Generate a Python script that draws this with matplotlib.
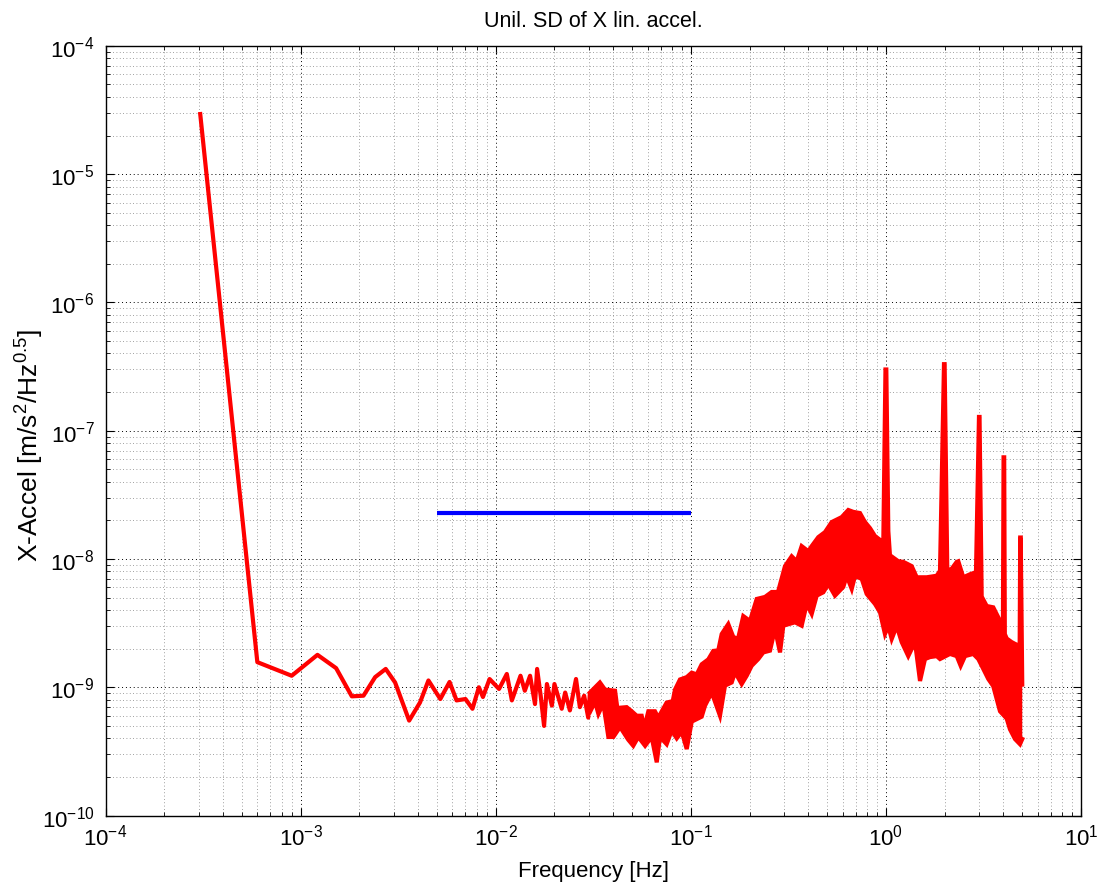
import numpy as np
import matplotlib
matplotlib.use('Agg')
import matplotlib.pyplot as plt
from matplotlib.ticker import LogLocator

plt.rcParams['font.family'] = ['Liberation Sans', 'DejaVu Sans']
plt.rcParams['mathtext.fontset'] = 'custom'
plt.rcParams['mathtext.rm'] = 'Liberation Sans'
plt.rcParams['mathtext.it'] = 'Liberation Sans'
plt.rcParams['mathtext.default'] = 'regular'

# low frequency part of the spectrum, single trace [Hz], [m/s^2/Hz^0.5]
freq_low = [3.05e-4, 6.0e-4, 9.0e-4, 1.22e-3, 1.52e-3, 1.83e-3, 2.10e-3, 2.41e-3,
            2.73e-3, 3.05e-3, 3.60e-3, 4.09e-3, 4.52e-3, 5.2e-3, 5.8e-3, 6.3e-3,
            7.0e-3, 7.6e-3, 8.2e-3, 8.6e-3, 9.3e-3, 1.04e-2, 1.14e-2, 1.21e-2,
            1.34e-2, 1.41e-2, 1.50e-2, 1.59e-2, 1.63e-2, 1.70e-2, 1.77e-2, 1.83e-2,
            1.94e-2, 2.0e-2, 2.18e-2, 2.27e-2, 2.40e-2, 2.58e-2, 2.70e-2, 2.84e-2,
            2.98e-2]
asd_low = [3.05e-5, 1.57e-9, 1.23e-9, 1.79e-9, 1.41e-9, 8.5e-10, 8.6e-10, 1.20e-9,
           1.39e-9, 1.09e-9, 5.5e-10, 7.6e-10, 1.13e-9, 8.1e-10, 1.10e-9, 7.9e-10,
           8.1e-10, 6.8e-10, 1.0e-9, 8.4e-10, 1.16e-9, 9.7e-10, 1.27e-9, 7.9e-10,
           1.23e-9, 9.4e-10, 1.23e-9, 7.4e-10, 1.39e-9, 8.6e-10, 5.0e-10, 1.06e-9,
           7.2e-10, 1.06e-9, 6.8e-10, 9.1e-10, 6.6e-10, 1.16e-9, 7.0e-10, 8.6e-10,
           5.8e-10]

# noisy part: upper edge of the trace (incl. the lines at 1..5 Hz)
freq_up = [0.0304, 0.0342, 0.0363, 0.0409, 0.0420, 0.0469, 0.0498, 0.0528, 0.0560,
           0.0576, 0.0606, 0.0655, 0.0681, 0.0752, 0.0808, 0.0830, 0.0880, 0.0953,
           0.1011, 0.1072, 0.1137, 0.1229, 0.1304, 0.1383, 0.1440, 0.1556, 0.1651,
           0.1745, 0.1858, 0.2011, 0.2177, 0.2400, 0.2598, 0.2798, 0.3040, 0.3289,
           0.3490, 0.3700, 0.4002, 0.4166, 0.4503, 0.4873, 0.5275, 0.5935, 0.6416,
           0.6806, 0.7365, 0.7816, 0.829, 0.879, 0.933, 0.970, 0.995, 1.005,
           1.029, 1.049, 1.158, 1.228, 1.356, 1.439, 1.619, 1.821, 1.894,
           1.985, 2.0, 2.064, 2.175, 2.307, 2.350, 2.493, 2.698, 2.896,
           3.0, 3.02, 3.097, 3.287, 3.551, 3.845, 3.98, 4.01, 4.04,
           4.07, 4.161, 4.414, 4.589, 4.85, 4.88, 4.91, 5.0]
asd_up = [9.1e-10, 1.09e-9, 9.6e-10, 9.4e-10, 6.9e-10, 7.0e-10, 6.5e-10, 6.0e-10, 6.0e-10,
          4.8e-10, 6.5e-10, 6.5e-10, 5.8e-10, 7.6e-10, 7.8e-10, 9.6e-10, 1.15e-9, 1.20e-9,
          1.30e-9, 1.26e-9, 1.51e-9, 1.65e-9, 1.92e-9, 1.94e-9, 2.60e-9, 3.11e-9, 2.47e-9,
          2.38e-9, 3.59e-9, 3.29e-9, 4.88e-9, 5.06e-9, 5.53e-9, 5.53e-9, 8.8e-9, 1.05e-8,
          9.6e-9, 1.26e-8, 1.15e-8, 1.26e-8, 1.48e-8, 1.62e-8, 1.94e-8, 2.12e-8, 2.41e-8,
          2.33e-8, 2.28e-8, 1.94e-8, 1.74e-8, 1.51e-8, 1.41e-8, 1.36e-8, 3.0e-7, 3.0e-7,
          1.65e-8, 1.07e-8, 9.6e-9, 9.5e-9, 8.8e-9, 7.2e-9, 7.2e-9, 7.4e-9, 8.1e-9,
          3.3e-7, 3.3e-7, 8.1e-9, 8.4e-9, 9.5e-9, 9.6e-9, 7.2e-9, 7.6e-9, 7.9e-9,
          1.28e-7, 1.28e-7, 5.1e-9, 4.3e-9, 4.2e-9, 3.3e-9, 3.0e-9, 6.2e-8, 6.2e-8,
          2.6e-9, 2.4e-9, 2.25e-9, 2.18e-9, 2.1e-9, 1.47e-8, 1.47e-8, 1.05e-9]

# noisy part: lower edge of the trace
freq_lo = [0.0304, 0.0323, 0.0336, 0.0356, 0.0378, 0.0401, 0.0434, 0.0478, 0.0507,
           0.0538, 0.0583, 0.0630, 0.0669, 0.0695, 0.0752, 0.0798, 0.0847, 0.0898,
           0.0953, 0.1011, 0.1137, 0.1183, 0.1280, 0.1411, 0.1497, 0.1620, 0.1685,
           0.1823, 0.1934, 0.2051, 0.2218, 0.2353, 0.2546, 0.2701, 0.2866, 0.2980,
           0.342, 0.370, 0.3928, 0.4166, 0.4419, 0.4777, 0.5068, 0.5483, 0.6047,
           0.6297, 0.668, 0.6945, 0.752, 0.797, 0.879, 0.933, 0.989, 1.029,
           1.071, 1.136, 1.205, 1.302, 1.410, 1.496, 1.586, 1.683, 1.821,
           1.894, 2.131, 2.307, 2.417, 2.544, 2.805, 2.976, 3.157, 3.349,
           3.551, 3.698, 3.845, 4.161, 4.326, 4.589, 4.868, 5.0]
asd_lo = [6.4e-10, 7.7e-10, 6.2e-10, 7.5e-10, 4.1e-10, 4.1e-10, 4.9e-10, 3.9e-10, 3.5e-10,
          4.1e-10, 3.5e-10, 4.1e-10, 2.6e-10, 4.1e-10, 3.6e-10, 4.6e-10, 4.0e-10, 4.5e-10,
          3.3e-10, 5.4e-10, 5.9e-10, 7.2e-10, 9.1e-10, 6.0e-10, 1.03e-9, 1.09e-9, 1.31e-9,
          1.06e-9, 1.23e-9, 1.47e-9, 1.66e-9, 1.87e-9, 1.93e-9, 2.85e-9, 1.87e-9, 3.02e-9,
          3.21e-9, 3.02e-9, 4.46e-9, 3.73e-9, 5.18e-9, 5.50e-9, 6.38e-9, 5.18e-9, 6.05e-9,
          7.37e-9, 5.84e-9, 7.37e-9, 6.99e-9, 5.34e-9, 4.46e-9, 3.84e-9, 2.60e-9, 3.00e-9,
          2.38e-9, 3.00e-9, 2.25e-9, 1.75e-9, 2.25e-9, 1.12e-9, 1.66e-9, 1.72e-9, 1.75e-9,
          1.66e-9, 1.82e-9, 1.75e-9, 1.47e-9, 1.75e-9, 1.82e-9, 1.66e-9, 1.39e-9, 1.16e-9,
          1.02e-9, 8.1e-10, 6.5e-10, 5.7e-10, 4.7e-10, 3.95e-10, 3.6e-10, 3.95e-10]

# requirement level (blue)
req_freq = [5e-3, 1e-1]
req_asd = [2.3e-8, 2.3e-8]

RED = '#ff0000'
BLUE = '#0000ff'

fig = plt.figure(figsize=(10.97, 8.87), dpi=100)
ax = fig.add_axes([0.0962, 0.0794, 0.8892, 0.8678])
ax.set_xscale('log')
ax.set_yscale('log')

# noisy band: polygon between the two edges, plus the edges themselves
band_x = np.r_[freq_up, freq_lo[::-1]]
band_y = np.r_[asd_up, asd_lo[::-1]]
ax.fill(band_x, band_y, color=RED, lw=0, zorder=3)
ax.plot(freq_up, asd_up, color=RED, lw=3, solid_joinstyle='miter', zorder=3)
ax.plot(freq_lo, asd_lo, color=RED, lw=3, solid_joinstyle='miter', zorder=3)
ax.plot(freq_low + [freq_up[0]], asd_low + [asd_up[0]], color=RED, lw=3,
        solid_capstyle='butt', zorder=3)

ax.plot(req_freq, req_asd, color=BLUE, lw=3, solid_capstyle='butt', zorder=4)

ax.set_xlim(1e-4, 1e1)
ax.set_ylim(1e-10, 1e-4)

for axis in (ax.xaxis, ax.yaxis):
    axis.set_major_locator(LogLocator(base=10, numticks=12))
    axis.set_minor_locator(LogLocator(base=10, subs=np.arange(2, 10), numticks=12))

ax.grid(True, which='major', color='black', linestyle=(0, (1, 3)), lw=0.7)
ax.grid(True, which='minor', color='#808080', linestyle=(0, (1, 3)), lw=0.6)
ax.set_axisbelow(True)

ax.tick_params(which='both', direction='in', top=True, right=True,
               labelsize=16, color='black')
ax.tick_params(which='major', length=6, width=0.8)
ax.tick_params(axis='x', which='major', pad=6)
ax.tick_params(axis='y', which='major', pad=8)
ax.tick_params(which='minor', length=3, width=0.6)
for s in ax.spines.values():
    s.set_linewidth(1.0)
    s.set_color('black')

ax.set_title('Unil. SD of X lin. accel.', fontsize=15.5, pad=14)
ax.set_xlabel('Frequency [Hz]', fontsize=16)
ax.set_ylabel('X-Accel [m/s$^2$/Hz$^{0.5}$]', fontsize=19)
ax.xaxis.set_label_coords(0.5, -0.058)
ax.yaxis.set_label_coords(-0.061, 0.482)

fig.savefig('out.png', dpi=100)
